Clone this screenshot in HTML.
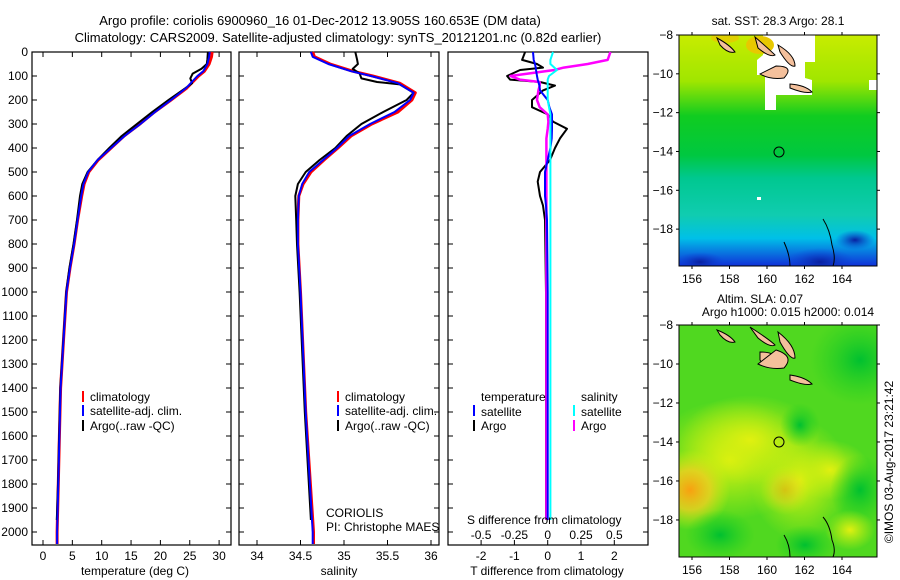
<!DOCTYPE html>
<html><head><meta charset="utf-8"><style>
body{margin:0;background:#fff;}
svg{display:block;font-family:"Liberation Sans",sans-serif;}
text{font-size:12px;fill:#000;}
</style></head><body>
<svg id="fig" width="900" height="580" viewBox="0 0 900 580">
<defs>
<linearGradient id="sstg" x1="0" y1="0" x2="0" y2="1">
<stop offset="0" stop-color="#c8ec00"/><stop offset="0.2" stop-color="#a0e600"/>
<stop offset="0.35" stop-color="#10cc20"/><stop offset="0.52" stop-color="#00c840"/>
<stop offset="0.62" stop-color="#00c890"/><stop offset="0.78" stop-color="#10ccb0"/>
<stop offset="0.88" stop-color="#00c0e8"/><stop offset="1" stop-color="#1030d8"/>
</linearGradient>
<radialGradient id="warm" cx="0.5" cy="0.5" r="0.5"><stop offset="0" stop-color="#f8a010"/><stop offset="0.5" stop-color="#f0d020" stop-opacity="0.8"/><stop offset="1" stop-color="#d8f010" stop-opacity="0"/></radialGradient>
<radialGradient id="yel" cx="0.5" cy="0.5" r="0.5"><stop offset="0" stop-color="#e0f010"/><stop offset="1" stop-color="#c8f010" stop-opacity="0"/></radialGradient>
<radialGradient id="grn" cx="0.5" cy="0.5" r="0.5"><stop offset="0" stop-color="#00c030"/><stop offset="1" stop-color="#20d020" stop-opacity="0"/></radialGradient>
<radialGradient id="dblue" cx="0.5" cy="0.5" r="0.5"><stop offset="0" stop-color="#0820a0"/><stop offset="1" stop-color="#1040d8" stop-opacity="0"/></radialGradient>
<clipPath id="c1"><rect x="679" y="35" width="198" height="231"/></clipPath>
<clipPath id="c2"><rect x="679" y="325" width="198" height="232"/></clipPath>
</defs>
<text x="320" y="25" text-anchor="middle" style="font-size:13px">Argo profile: coriolis 6900960_16 01-Dec-2012 13.905S 160.653E (DM data)</text>
<text x="338" y="42" text-anchor="middle" style="font-size:13px">Climatology: CARS2009. Satellite-adjusted climatology: synTS_20121201.nc (0.82d earlier)</text>

<g id="p1"></g>
<g id="p2"></g>
<g id="p3"></g>

<g>
<rect x="82" y="391" width="2" height="11" fill="#f00"/><text x="90" y="401">climatology</text>
<rect x="82" y="405" width="2" height="11" fill="#00f"/><text x="90" y="415">satellite-adj. clim.</text>
<rect x="82" y="420" width="2" height="11" fill="#000"/><text x="90" y="430">Argo(..raw -QC)</text>
</g>
<g>
<rect x="337" y="391" width="2" height="11" fill="#f00"/><text x="345" y="401">climatology</text>
<rect x="337" y="405" width="2" height="11" fill="#00f"/><text x="345" y="415">satellite-adj. clim.</text>
<rect x="337" y="420" width="2" height="11" fill="#000"/><text x="345" y="430">Argo(..raw -QC)</text>
</g>
<text x="326" y="517">CORIOLIS</text>
<text x="326" y="531">PI: Christophe MAES</text>
<g>
<text x="481" y="401">temperature</text><text x="581" y="401">salinity</text>
<rect x="473" y="405" width="2" height="11" fill="#00f"/><text x="481" y="416">satellite</text>
<rect x="473" y="420" width="2" height="11" fill="#000"/><text x="481" y="430">Argo</text>
<rect x="573" y="405" width="2" height="11" fill="#0ff"/><text x="581" y="416">satellite</text>
<rect x="573" y="420" width="2" height="11" fill="#f0f"/><text x="581" y="430">Argo</text>
</g>
<text x="467" y="524">S difference from climatology</text>
<text x="547" y="575" text-anchor="middle">T difference from climatology</text>
<text x="135" y="575" text-anchor="middle">temperature (deg C)</text>
<text x="339" y="575" text-anchor="middle">salinity</text>

<text x="778" y="25" text-anchor="middle">sat. SST: 28.3 Argo: 28.1</text>
<g clip-path="url(#c1)">
<rect x="679" y="35" width="198" height="231" fill="url(#sstg)"/>
<ellipse cx="820" cy="262" rx="35" ry="14" fill="url(#dblue)"/>
<ellipse cx="700" cy="262" rx="25" ry="10" fill="url(#dblue)"/>
<ellipse cx="855" cy="240" rx="20" ry="10" fill="url(#dblue)"/>
<path d="M763 35 L815 35 L815 62 L805 62 L805 78 L812 80 L812 95 L776 95 L776 110 L765 110 L765 75 L757 75 L757 60 L763 55 Z" fill="#fff"/>
<rect x="869" y="80" width="8" height="10" fill="#fff"/>
<rect x="757" y="197" width="4" height="3" fill="#fff"/>
<ellipse cx="760" cy="45" rx="14" ry="9" fill="#e8c800"/>
<ellipse cx="725" cy="38" rx="14" ry="5" fill="#e0d000"/>
</g>
<g fill="#f4c09c" stroke="#000" stroke-width="1">
<path d="M755 37 Q770 50 775 55 Q770 58 758 48 Z"/>
<path d="M776 66 Q795 66 784 78 Q770 80 760 74 Z"/>
<path d="M778 45 Q795 55 795 66 Q790 68 780 52 Z"/>
<path d="M790 84 Q805 85 812 92 Q805 94 790 88 Z"/>
<path d="M717 38 Q730 45 735 52 Q728 54 720 45 Z"/>
</g>
<circle cx="779" cy="152" r="5" fill="none" stroke="#000"/>
<path d="M823 219 Q830 230 832 245 Q836 258 833 266 M784 242 Q790 255 790 266" fill="none" stroke="#000"/>
<rect x="679" y="35" width="198" height="231" fill="none" stroke="#000"/>
<g id="m1ax"></g>

<text x="760" y="303" text-anchor="middle">Altim. SLA: 0.07</text>
<text x="788" y="316" text-anchor="middle">Argo h1000: 0.015 h2000: 0.014</text>
<g clip-path="url(#c2)">
<rect x="679" y="325" width="198" height="232" fill="#50d820"/>
<ellipse cx="730" cy="460" rx="80" ry="60" fill="url(#yel)"/>
<ellipse cx="750" cy="440" rx="70" ry="45" fill="url(#yel)"/>
<ellipse cx="800" cy="480" rx="50" ry="60" fill="url(#yel)"/>
<ellipse cx="830" cy="470" rx="40" ry="30" fill="url(#yel)"/>
<ellipse cx="690" cy="490" rx="40" ry="40" fill="url(#warm)"/>
<ellipse cx="785" cy="490" rx="25" ry="25" fill="url(#warm)" opacity="0.5"/>
<ellipse cx="860" cy="360" rx="50" ry="45" fill="url(#grn)"/>
<ellipse cx="860" cy="490" rx="30" ry="35" fill="url(#grn)"/>
<ellipse cx="720" cy="535" rx="35" ry="25" fill="url(#grn)"/>
<ellipse cx="805" cy="545" rx="30" ry="20" fill="url(#grn)"/>
<ellipse cx="800" cy="425" rx="20" ry="22" fill="url(#grn)"/>
<ellipse cx="850" cy="530" rx="25" ry="20" fill="url(#yel)"/>
</g>
<g fill="#f4c09c" stroke="#000" stroke-width="1">
<path d="M750 327 Q770 340 775 345 Q770 348 758 338 Z"/>
<path d="M760 352 Q780 352 776 365 Q765 368 760 360 Z"/>
<path d="M776 350 Q795 356 784 368 Q770 370 758 364 Z"/>
<path d="M778 332 Q795 345 795 358 Q790 360 780 342 Z"/>
<path d="M790 375 Q805 377 812 384 Q805 386 790 380 Z"/>
<path d="M717 330 Q730 335 735 342 Q728 344 720 335 Z"/>
</g>
<circle cx="779" cy="442" r="5" fill="none" stroke="#000"/>
<path d="M823 517 Q830 525 832 540 Q836 550 833 557 M784 535 Q790 545 790 557" fill="none" stroke="#000"/>
<rect x="679" y="325" width="198" height="232" fill="none" stroke="#000"/>
<g id="m2ax"></g>
<text transform="translate(893,462) rotate(-90)" text-anchor="middle">©IMOS 03-Aug-2017 23:21:42</text>
</svg>
<script>
const depthsT = [0,20,50,80,100,150,200,250,300,350,400,450,500,550,600,700,800,900,1000,1200,1400,1600,1800,2000,2050];
const tempClim = [28.8,28.7,28.3,27.5,26.5,24.5,21.8,19,16.5,13.8,11.6,9.4,7.8,7.0,6.6,5.9,5.3,4.6,4.0,3.5,3.0,2.8,2.6,2.4,2.4];
const tempSat  = [28.4,28.3,28.0,27.3,26.3,24.4,21.8,19.1,16.6,13.9,11.6,9.3,7.7,6.9,6.5,5.9,5.3,4.6,4.0,3.5,3.0,2.8,2.6,2.4,2.4];
const depthsArgoT = [0,30,50,70,90,110,130,150,200,250,300,350,400,450,500,550,600,700,800,900,1000,1200,1400,1600,1800,1950];
const tempArgo = [28.1,28.0,27.9,27.0,25.5,25.1,25.4,24.3,21.4,18.6,16.0,13.4,11.3,9.3,7.6,6.7,6.3,5.8,5.2,4.5,3.95,3.45,2.95,2.75,2.55,2.35];
const depthsS = [0,20,50,80,100,130,170,200,250,300,350,400,450,500,550,600,700,800,1000,1500,2000,2050];
const salClim = [34.64,34.66,34.84,35.1,35.33,35.64,35.82,35.78,35.62,35.32,35.08,34.93,34.77,34.62,34.53,34.48,34.47,34.47,34.5,34.56,34.65,34.65];
const salSat  = [34.62,34.64,34.82,35.08,35.31,35.62,35.8,35.76,35.58,35.3,35.06,34.92,34.76,34.6,34.52,34.48,34.47,34.47,34.5,34.56,34.64,34.64];
const depthsArgoS = [0,30,50,70,90,110,125,135,170,200,250,300,350,400,450,500,550,600,700,800,1000,1500,1950];
const salArgo = [35.13,35.15,35.16,35.1,35.18,35.2,35.38,35.64,35.8,35.72,35.45,35.2,35.03,34.9,34.72,34.56,34.47,34.44,34.45,34.46,34.49,34.55,34.62];
const depthsD = [0,33,50,65,75,100,115,125,140,160,200,230,260,290,320,360,400,450,500,540,600,640,700,1000,1500,1950];
const tDiffArgo = [-0.68,-0.77,-0.32,-0.14,-0.83,-1.22,-1.13,-0.23,0.22,-0.14,-0.47,-0.47,0,0.16,0.58,0.37,0.22,0.07,-0.23,-0.3,-0.23,-0.14,-0.08,-0.05,-0.05,-0.05];
const tDiffSat = [-0.44,-0.42,-0.38,-0.36,-0.35,-0.32,-0.3,-0.28,-0.25,-0.23,0,0.05,0.13,0.13,0.13,0.12,0.08,0.0,-0.08,-0.08,-0.08,-0.05,-0.02,0,0,0];
const sDiffSat = [0.04,0.02,0.02,0.05,0.07,0.01,0.0,0.0,0.0,0.0,0.0,0.01,0.02,0.02,0.02,0.02,0.02,0.02,0.02,0.02,0.02,0.02,0.02,0.02,0.02,0.02];
const sDiffArgo = [0.47,0.45,0.3,0.12,0.05,-0.28,-0.21,-0.06,-0.06,-0.07,-0.08,-0.06,0,0.005,0.0,-0.01,-0.01,-0.01,-0.01,-0.01,-0.01,-0.01,-0.01,-0.01,-0.01,-0.01];
const depthTicks = [0,100,200,300,400,500,600,700,800,900,1000,1100,1200,1300,1400,1500,1600,1700,1800,1900,2000];
const tempTicks = [0,5,10,15,20,25,30];
const salTicks = [34,34.5,35,35.5,36];
const tDiffTicks = [-2,-1,0,1,2];
const sDiffTicks = [-0.5,-0.25,0,0.25,0.5];
const latTicks = [-8,-10,-12,-14,-16,-18];
const lonTicks = [156,158,160,162,164];

const NS='http://www.w3.org/2000/svg';
function mk(parent,tag,attrs){const e=document.createElementNS(NS,tag);for(const k in attrs)e.setAttribute(k,attrs[k]);parent.appendChild(e);return e;}
const Y0=52, PY=0.24;
const yD = d => Y0 + d*PY;
const PB=545, PT=52;
function frame(g,x0,x1){
  const r=mk(g,'rect',{x:x0,y:PT,width:x1-x0,height:PB-PT,fill:'none',stroke:'#000','stroke-width':1.2});
  
  
  depthTicks.forEach(d=>{
    mk(g,'line',{x1:x0,x2:x0+5,y1:yD(d),y2:yD(d),stroke:'#000'});
    mk(g,'line',{x1:x1-5,x2:x1,y1:yD(d),y2:yD(d),stroke:'#000'});
  });
}
function xticks(g,xs,vals,fmt,y,top){
  vals.forEach(v=>{const x=xs(v);
    mk(g,'line',{x1:x,x2:x,y1:PB-5,y2:PB,stroke:'#000'});
    if(top) mk(g,'line',{x1:x,x2:x,y1:PT,y2:PT+5,stroke:'#000'});
    const t=mk(g,'text',{x:x,y:y,'text-anchor':'middle'});t.textContent=fmt(v);
    
    
  });
}
function line(g,xs,vals,depths,color,w,name){
  const pts=vals.map((v,i)=>xs(v).toFixed(1)+','+yD(depths[i]).toFixed(1)).join(' ');
  const p=mk(g,'polyline',{points:pts,fill:'none',stroke:color,'stroke-width':w,'stroke-linejoin':'round'});
  
  
}
const p1=document.getElementById('p1');
const xT=v=>43+v*5.87;
frame(p1,32,231);
depthTicks.forEach(d=>{const t=mk(p1,'text',{x:28,y:yD(d)+4,'text-anchor':'end'});t.textContent=d;
  
  });
xticks(p1,xT,tempTicks,v=>v,560,true);
line(p1,xT,tempClim,depthsT,'#f00',3,'temp-climatology-line');
line(p1,xT,tempArgo,depthsArgoT,'#000',2,'temp-argo-line');
line(p1,xT,tempSat,depthsT,'#00f',2,'temp-satellite-line');
const p2=document.getElementById('p2');
const xS=v=>257+(v-34)*87;
frame(p2,239,439);
xticks(p2,xS,salTicks,v=>v,560,true);
line(p2,xS,salClim,depthsS,'#f00',3,'sal-climatology-line');
line(p2,xS,salArgo,depthsArgoS,'#000',2,'sal-argo-line');
line(p2,xS,salSat,depthsS,'#00f',2,'sal-satellite-line');
const p3=document.getElementById('p3');
const xTd=v=>547.7+v*33.3;
const xSd=v=>547.7+v*133.3;
frame(p3,448,648);
xticks(p3,xTd,tDiffTicks,v=>v,560,false);
sDiffTicks.forEach(v=>{const t=mk(p3,'text',{x:xSd(v),y:539,'text-anchor':'middle'});t.textContent=v;
  
  });
line(p3,xTd,tDiffArgo,depthsD,'#000',2,'tdiff-argo-line');
line(p3,xSd,sDiffArgo,depthsD,'#f0f',2.5,'sdiff-argo-line');
line(p3,xTd,tDiffSat,depthsD,'#00f',2,'tdiff-satellite-line');
line(p3,xSd,sDiffSat,depthsD,'#0ff',2,'sdiff-satellite-line');
function mapAx(id,top,h){
  const g=document.getElementById(id);
  const lat=v=>top+(-8-v)*h/11.9;
  latTicks.forEach(v=>{const y=lat(v);
    mk(g,'line',{x1:679,x2:676,y1:y,y2:y,stroke:'#000'});
    mk(g,'line',{x1:877,x2:880,y1:y,y2:y,stroke:'#000'});
    const t=mk(g,'text',{x:673,y:y+4,'text-anchor':'end'});t.textContent=String(v).replace('-','\u2212');
    
    });
  const lon=v=>692+(v-156)*18.75;
  lonTicks.forEach(v=>{const x=lon(v);
    mk(g,'line',{x1:x,x2:x,y1:top,y2:top-3,stroke:'#000'});
    mk(g,'line',{x1:x,x2:x,y1:top+h,y2:top+h+3,stroke:'#000'});
    const t=mk(g,'text',{x:x,y:top+h+17,'text-anchor':'middle'});t.textContent=v;
    
    });
}
mapAx('m1ax',35,231);
mapAx('m2ax',325,232);
</script>
</body></html>
